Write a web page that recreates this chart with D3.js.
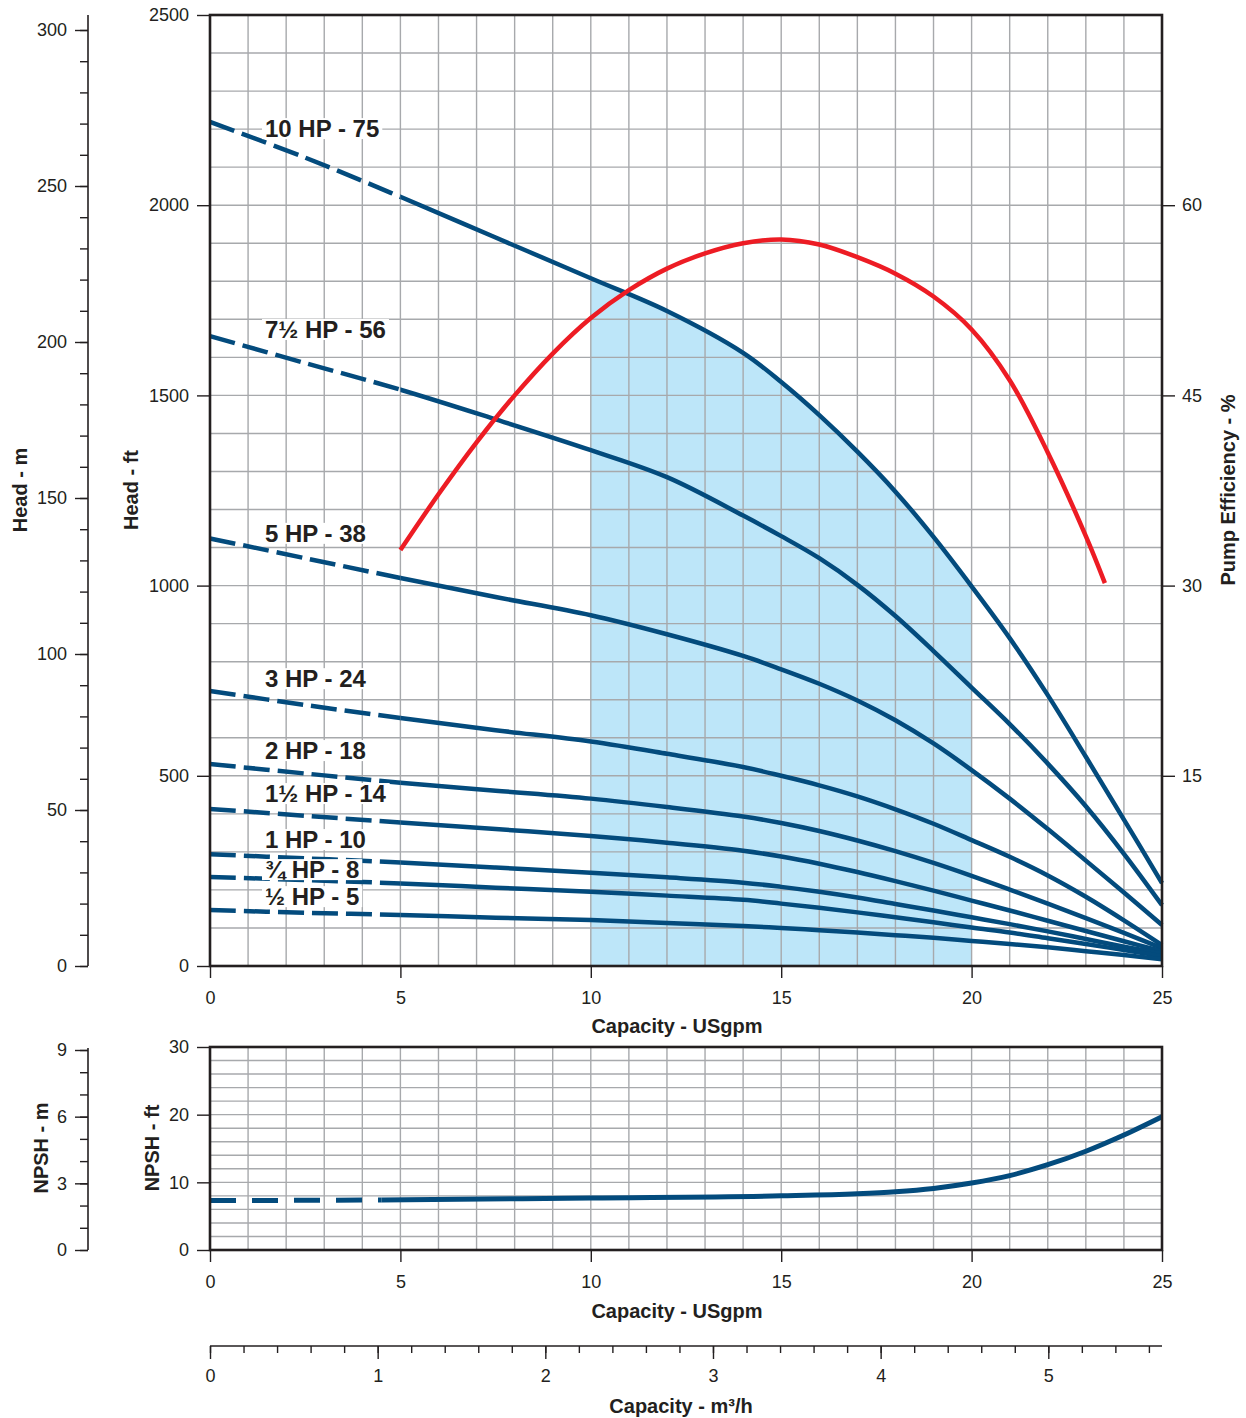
<!DOCTYPE html>
<html>
<head>
<meta charset="utf-8">
<script src="https://cdn.jsdelivr.net/npm/d3@7"></script>
<style>
  body { margin: 0; background: #fff; }
  text { font-family: "Liberation Sans", Arial, sans-serif; fill: #231f20; }
</style>
</head>
<body>
<svg id="chart" width="1246" height="1418"></svg>
<script>
// capacity points (USgpm) used for all head curves
const gpm = [0, 2.5, 5, 7.5, 10, 12, 14, 15, 16, 17, 18, 19, 20, 21, 22, 23, 24, 25];

// head in ft for each motor / stage model
const hp10   = [2219, 2125, 2022, 1915, 1808, 1722, 1612, 1535, 1448, 1352, 1247, 1128, 998, 862, 712, 550, 385, 218];
const hp7_5  = [1656, 1585, 1515, 1437, 1356, 1285, 1184, 1130, 1072, 1002, 920, 828, 732, 636, 532, 420, 295, 160];
const hp5    = [1124, 1072, 1020, 970, 922, 872, 815, 780, 742, 698, 646, 585, 515, 440, 360, 277, 193, 108];
const hp3    = [723, 686, 652, 620, 590, 558, 523, 500, 475, 446, 412, 374, 331, 287, 238, 182, 120, 55];
const hp2    = [531, 506, 482, 461, 440, 418, 393, 376, 355, 330, 302, 271, 237, 201, 164, 126, 87, 47];
const hp1_5  = [413, 395, 377, 360, 342, 324, 303, 288, 269, 247, 223, 198, 172, 146, 119, 92, 65, 39];
const hp1    = [294, 283, 272, 259, 245, 233, 219, 208, 195, 180, 163, 146, 128, 110, 91, 71, 51, 32];
const hp0_75 = [234, 226, 217, 206, 195, 185, 174, 164, 153, 141, 128, 115, 101, 88, 73, 58, 42, 26];
const hp0_5  = [147, 140, 134, 127, 121, 113, 105, 100, 94, 88, 81, 74, 66, 58, 49, 39, 29, 18];

const curveNames = ["10 HP - 75", "7½ HP - 56", "5 HP - 38", "3 HP - 24", "2 HP - 18",
                    "1½ HP - 14", "1 HP - 10", "¾ HP - 8", "½ HP - 5"];
const curves = [hp10, hp7_5, hp5, hp3, hp2, hp1_5, hp1, hp0_75, hp0_5];

// pump efficiency (%)
const effGpm = [5, 6, 7, 8, 9, 10, 11, 12, 13, 14, 15, 16, 17, 18, 19, 20, 21, 22, 23, 23.5];
const effPct = [32.8, 37.2, 41.3, 45.0, 48.3, 51.1, 53.3, 55.0, 56.2, 57.0, 57.3, 56.9, 55.9, 54.6, 52.8, 50.2, 46.2, 40.5, 33.9, 30.2];

// NPSH required (ft)
const npshGpm = [0, 4.5, 10, 15, 17, 18, 19, 20, 21, 22, 23, 24, 25];
const npshFt  = [7.3, 7.4, 7.7, 8.0, 8.3, 8.6, 9.1, 9.9, 11.0, 12.6, 14.6, 17.0, 19.7];

// tick labels
const gpmTicks = [0, 5, 10, 15, 20, 25];
const ftTicks = [0, 500, 1000, 1500, 2000, 2500];
const mTicks = [0, 50, 100, 150, 200, 250, 300];
const effTicks = [15, 30, 45, 60];
const npshFtTicks = [0, 10, 20, 30];
const npshMTicks = [0, 3, 6, 9];
const m3hTicks = [0, 1, 2, 3, 4, 5];

// label anchor (baseline, in ft) for each curve label
const labelFt = [2179, 1651, 1115, 733, 544, 431, 310, 231, 160];

const ink = "#231f20", blue = "#034b7d", red = "#ed1c24", gridCol = "#a7a9ac";
const svg = d3.select("#chart");
const smooth = d3.curveCatmullRom.alpha(0.5);

const x = d3.scaleLinear().domain([0, 25]).range([210, 1162]);
const yFt = d3.scaleLinear().domain([0, 2500]).range([966, 15]);
const yM = d3.scaleLinear().domain([0, 300]).range([966, 30]);
const yEff = d3.scaleLinear().domain([0, 75]).range([966, 15]);
const yN = d3.scaleLinear().domain([0, 30]).range([1250, 1047]);
const yNm = d3.scaleLinear().domain([0, 9]).range([1250, 1050]);
const xM3 = d3.scaleLinear().domain([0, 25 * 0.2271247]).range([210, 1162]);

const defs = svg.append("defs");
function clip(id, x0, x1) {
  defs.append("clipPath").attr("id", id).append("rect")
    .attr("x", x0).attr("y", 0).attr("width", x1 - x0).attr("height", 1418);
}
clip("dashClip", 0, x(5));
clip("solidClip", x(5), 1246);
clip("npDashClip", 0, x(4.5));
clip("npSolidClip", x(4.5), 1246);
clip("bepClip", x(10), x(20));

// shaded preferred operating range, under the 10 HP curve
const area = d3.area().x((d, i) => x(gpm[i])).y0(yFt(0)).y1(d => yFt(d)).curve(smooth);
svg.append("path").datum(hp10).attr("d", area).attr("fill", "#bde6f9").attr("clip-path", "url(#bepClip)");

// grids
function grid(yScale, yVals, top, bottom) {
  const g = svg.append("g").attr("stroke", gridCol).attr("stroke-width", 1.4);
  g.selectAll(".v").data(d3.range(1, 25)).enter().append("line")
    .attr("x1", d => x(d)).attr("x2", d => x(d)).attr("y1", top).attr("y2", bottom);
  g.selectAll(".h").data(yVals).enter().append("line")
    .attr("x1", x(0)).attr("x2", x(25)).attr("y1", d => yScale(d)).attr("y2", d => yScale(d));
}
grid(yFt, d3.range(100, 2500, 100), 15, 966);
grid(yN, d3.range(2, 30, 2), 1047, 1250);

// head curves
const line = d3.line().x((d, i) => x(gpm[i])).y(d => yFt(d)).curve(smooth);
const cg = svg.append("g").attr("fill", "none").attr("stroke", blue).attr("stroke-width", 4.5);
curves.forEach(c => {
  cg.append("path").datum(c).attr("d", line).attr("stroke-dasharray", "26,8").attr("clip-path", "url(#dashClip)");
  cg.append("path").datum(c).attr("d", line).attr("clip-path", "url(#solidClip)");
});

// efficiency
const effLine = d3.line().x((d, i) => x(effGpm[i])).y(d => yEff(d)).curve(smooth);
svg.append("path").datum(effPct).attr("d", effLine).attr("fill", "none").attr("stroke", red).attr("stroke-width", 4.5);

// NPSH
const npLine = d3.line().x((d, i) => x(npshGpm[i])).y(d => yN(d)).curve(d3.curveMonotoneX);
svg.append("path").datum(npshFt).attr("d", npLine).attr("fill", "none").attr("stroke", blue)
  .attr("stroke-width", 5).attr("stroke-dasharray", "26,16").attr("clip-path", "url(#npDashClip)");
svg.append("path").datum(npshFt).attr("d", npLine).attr("fill", "none").attr("stroke", blue)
  .attr("stroke-width", 5).attr("clip-path", "url(#npSolidClip)");

// curve labels with white boxes
curveNames.forEach((name, i) => {
  const lg = svg.append("g");
  const rect = lg.append("rect").attr("fill", "#fff");
  const t = lg.append("text").attr("x", 265).attr("y", yFt(labelFt[i]))
    .attr("font-size", 24).attr("font-weight", "bold").text(name);
  const b = t.node().getBBox();
  rect.attr("x", b.x - 3).attr("y", yFt(labelFt[i]) - 19).attr("width", b.width + 6).attr("height", 21);
});

// frames
svg.append("rect").attr("x", x(0)).attr("y", yFt(2500)).attr("width", x(25) - x(0)).attr("height", yFt(0) - yFt(2500))
  .attr("fill", "none").attr("stroke", ink).attr("stroke-width", 2.6);
svg.append("rect").attr("x", x(0)).attr("y", yN(30)).attr("width", x(25) - x(0)).attr("height", yN(0) - yN(30))
  .attr("fill", "none").attr("stroke", ink).attr("stroke-width", 2.6);

// axes
const fmt = d => String(d);
function addAxis(axis, tx, ty) {
  const g = svg.append("g").attr("transform", `translate(${tx},${ty})`).call(axis);
  g.attr("font-size", 18).attr("font-family", "Liberation Sans, Arial, sans-serif").style("color", ink);
  g.select(".domain").remove();
  g.selectAll("line").attr("stroke-width", 1.4);
  return g;
}

addAxis(d3.axisBottom(x).tickValues(gpmTicks).tickFormat(fmt).tickSize(12).tickPadding(13), 0, 966);
addAxis(d3.axisBottom(x).tickValues(gpmTicks).tickFormat(fmt).tickSize(12).tickPadding(13), 0, 1250);
addAxis(d3.axisLeft(yFt).tickValues(ftTicks).tickFormat(fmt).tickSize(13).tickPadding(8), 210, 0);
addAxis(d3.axisLeft(yN).tickValues(npshFtTicks).tickFormat(fmt).tickSize(13).tickPadding(8), 210, 0);
addAxis(d3.axisRight(yEff).tickValues(effTicks).tickFormat(fmt).tickSize(13).tickPadding(7), 1162, 0);

// head m axis
addAxis(d3.axisLeft(yM).tickValues(d3.range(0, 301, 10)).tickSize(8).tickFormat(""), 88, 0);
addAxis(d3.axisLeft(yM).tickValues(mTicks).tickFormat(fmt).tickSize(13).tickPadding(8), 88, 0);
svg.append("line").attr("x1", 88).attr("x2", 88).attr("y1", 15).attr("y2", 966).attr("stroke", ink).attr("stroke-width", 1.6);

// NPSH m axis
addAxis(d3.axisLeft(yNm).tickValues(d3.range(0, 10, 1)).tickSize(8).tickFormat(""), 88, 0);
addAxis(d3.axisLeft(yNm).tickValues(npshMTicks).tickFormat(fmt).tickSize(13).tickPadding(8), 88, 0);
svg.append("line").attr("x1", 88).attr("x2", 88).attr("y1", 1048).attr("y2", 1250).attr("stroke", ink).attr("stroke-width", 1.6);

// m3/h axis
addAxis(d3.axisBottom(xM3).tickValues(d3.range(0, 5.7, 0.2)).tickSize(7).tickFormat(""), 0, 1346);
addAxis(d3.axisBottom(xM3).tickValues(m3hTicks).tickFormat(fmt).tickSize(13).tickPadding(10), 0, 1346);
svg.append("line").attr("x1", 210).attr("x2", 1162).attr("y1", 1346).attr("y2", 1346).attr("stroke", ink).attr("stroke-width", 1.6);

// titles
function title(txt, tx, ty, rot) {
  svg.append("text").attr("transform", `translate(${tx},${ty}) rotate(${rot})`)
    .attr("text-anchor", "middle").attr("font-size", 20).attr("font-weight", "bold").text(txt);
}
title("Capacity - USgpm", 677, 1033, 0);
title("Capacity - USgpm", 677, 1318, 0);
title("Capacity - m³/h", 681, 1413, 0);
title("Head - m", 27, 490, -90);
title("Head - ft", 138, 490, -90);
title("Pump Efficiency - %", 1235, 490, -90);
title("NPSH - m", 48, 1148, -90);
title("NPSH - ft", 159, 1148, -90);
</script>
</body>
</html>
